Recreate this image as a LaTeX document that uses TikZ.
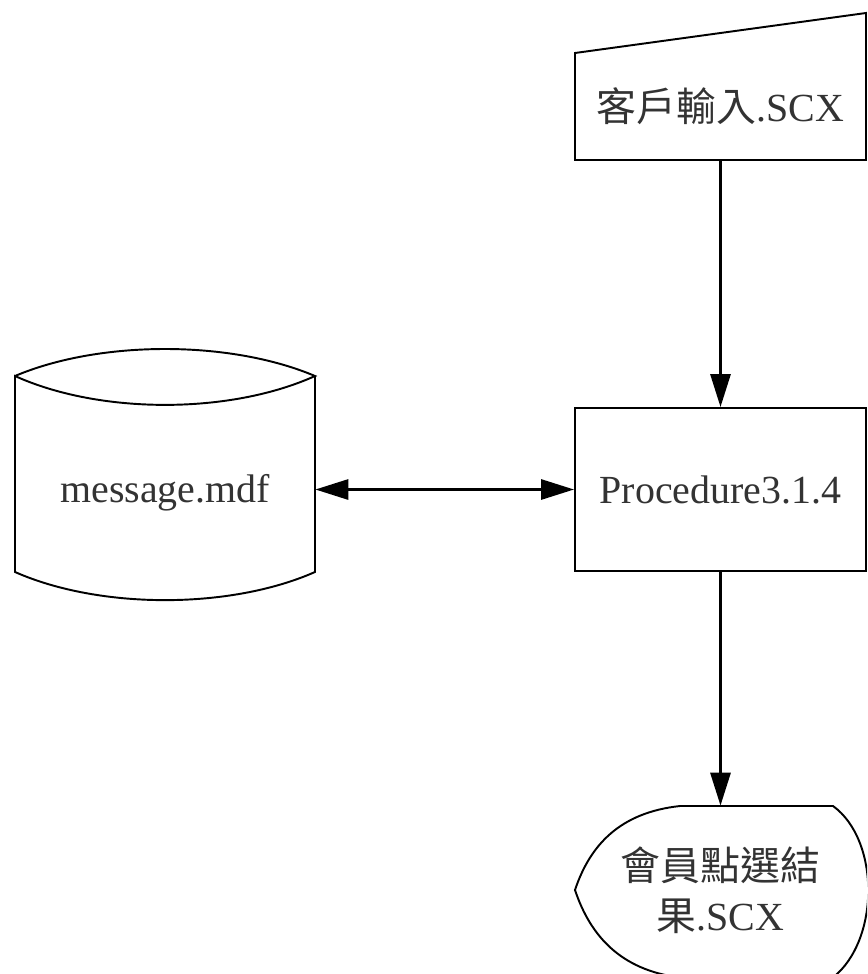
\documentclass[tikz,border=0pt]{standalone}
\usepackage{fontspec}
\setmainfont{Liberation Serif}
\newfontfamily\cjk{Noto Sans CJK TC}
\usepackage{tikz}
\usetikzlibrary{arrows.meta}
\newcommand{\flowfont}{\fontsize{22.7}{28.5}\selectfont}

\begin{document}
\begin{tikzpicture}
\tikzstyle{every node}=[font=\flowfont,text=black!80,inner sep=0pt]
\tikzstyle{shp}=[line width=1.1pt]
\tikzstyle{flow}=[line width=1.7pt,->]
\tikzstyle{dblflow}=[line width=1.7pt,<->]
\tikzset{>={Triangle[length=0.66cm,width=0.4cm]}}
\clip (0,0) rectangle (17.34,-19.48);
% manual input
\node[minimum width=5.82cm,minimum height=2.14cm] (a) at (14.41,-2.13) {{\cjk 客戶輸入}.SCX};
\draw[shp] (11.5,-3.2) -- (11.5,-1.06) -- (17.32,-0.26) -- (17.32,-3.2) -- cycle;
% process
\node[draw,shp,minimum width=5.82cm,minimum height=3.26cm] (b) at (14.41,-9.79) {Procedure3.1.4};
% stored data
\node[minimum width=6cm] (c) at (3.3,-9.86) {message.mdf};
\draw[shp] (0.3,-7.52) .. controls (2.0,-6.8) and (4.6,-6.8) .. (6.3,-7.52)
  .. controls (4.6,-8.29) and (2.0,-8.29) .. (0.3,-7.52) -- (0.3,-11.44)
  .. controls (2.0,-12.19) and (4.6,-12.19) .. (6.3,-11.44) -- (6.3,-7.52);
% display
\node[minimum height=3.36cm,align=center] (d) at (14.41,-17.8) {{\cjk 會員點選結}\\{\cjk 果}.SCX};
\draw[shp] (13.6,-16.12) -- (16.66,-16.12)
  .. controls (17.6,-16.8) and (17.6,-18.8) .. (16.66,-19.55) -- (13.6,-19.55)
  .. controls (12.4,-19.4) and (11.8,-18.7) .. (11.5,-17.8)
  .. controls (11.8,-16.9) and (12.4,-16.25) .. (13.6,-16.12);
\draw[flow] (a) -- (b);
\draw[flow] (b) -- (d);
\draw[dblflow] (c.east |- b.west) -- (b.west);
\end{tikzpicture}
\end{document}
